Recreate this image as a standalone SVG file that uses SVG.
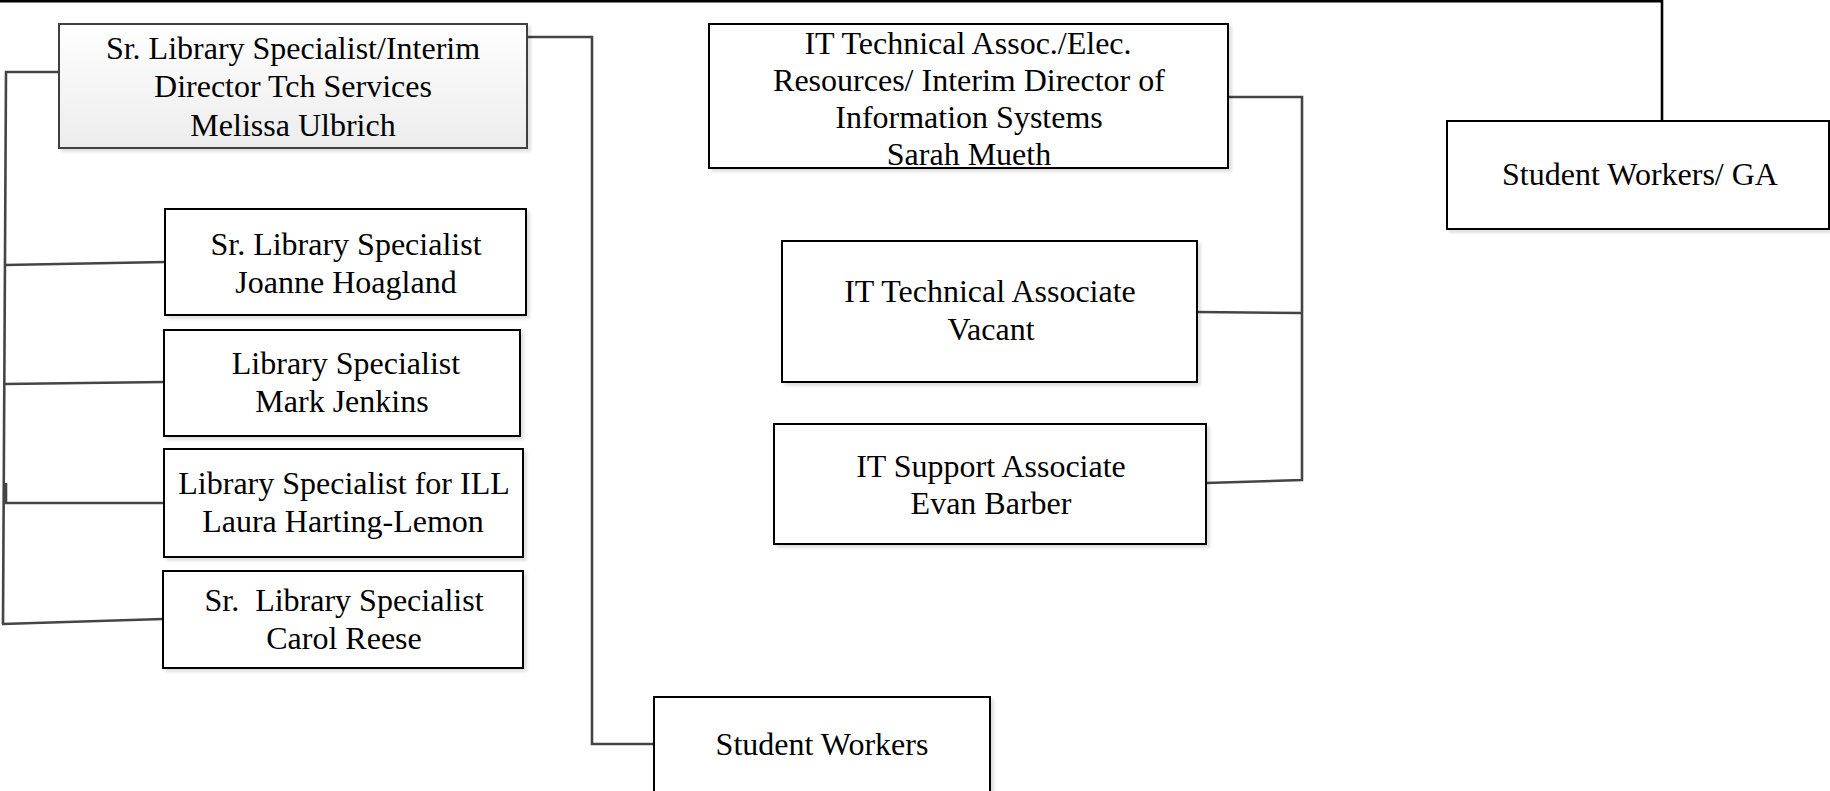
<svg xmlns="http://www.w3.org/2000/svg" width="1830" height="791" viewBox="0 0 1830 791">
<defs>
<linearGradient id="g1" x1="0" y1="0" x2="0" y2="1">
<stop offset="0" stop-color="#ffffff"/>
<stop offset="1" stop-color="#ececec"/>
</linearGradient>
<filter id="sh" x="-5%" y="-5%" width="115%" height="120%">
<feGaussianBlur in="SourceAlpha" stdDeviation="1.5"/>
<feOffset dx="3" dy="3" result="b"/>
<feComponentTransfer><feFuncA type="linear" slope="0.12"/></feComponentTransfer>
<feMerge><feMergeNode/><feMergeNode in="SourceGraphic"/></feMerge>
</filter>
</defs>
<style>
.box{fill:#fff;stroke:#000;stroke-width:2;filter:url(#sh)}
.box1{fill:url(#g1);stroke:#404040;stroke-width:2;filter:url(#sh)}
.t{font-family:"Liberation Serif","Times New Roman",serif;font-size:32px;fill:#000;text-anchor:middle}
.c{fill:none;stroke:#454545;stroke-width:2.6}
.top{fill:none;stroke:#000;stroke-width:2.6}
</style>
<g id="connectors">
<path class="top" d="M0,1.3 H1662 V121"/>
<path class="c" d="M59,72 H6 L3,624"/>
<path class="c" d="M5,265 L165,262"/>
<path class="c" d="M4,384 L164,382"/>
<path class="c" d="M6,483 V503 H164"/>
<path class="c" d="M2,624 L163,619"/>
<path class="c" d="M527,37 H592 V744 H654"/>
<path class="c" d="M1228,97 H1302 V480 L1206,483"/>
<path class="c" d="M1197,312 L1302,313"/>
</g>
<g id="n-melissa">
<rect class="box1" x="59" y="24" width="468" height="124"/>
<text class="t" x="293" y="59">Sr. Library Specialist/Interim</text>
<text class="t" x="293" y="97">Director Tch Services</text>
<text class="t" x="293" y="136">Melissa Ulbrich</text>
</g>
<g id="n-joanne">
<rect class="box" x="165" y="209" width="361" height="106"/>
<text class="t" x="346" y="255">Sr. Library Specialist</text>
<text class="t" x="346" y="293">Joanne Hoagland</text>
</g>
<g id="n-mark">
<rect class="box" x="164" y="330" width="356" height="106"/>
<text class="t" x="346" y="374">Library Specialist</text>
<text class="t" x="342" y="412">Mark Jenkins</text>
</g>
<g id="n-laura">
<rect class="box" x="164" y="449" width="359" height="108"/>
<text class="t" x="344" y="494">Library Specialist for ILL</text>
<text class="t" x="343" y="532">Laura Harting-Lemon</text>
</g>
<g id="n-carol">
<rect class="box" x="163" y="571" width="360" height="97"/>
<text class="t" x="344" y="611" xml:space="preserve">Sr.  Library Specialist</text>
<text class="t" x="344" y="649">Carol Reese</text>
</g>
<g id="n-student-workers">
<rect class="box" x="654" y="697" width="336" height="100"/>
<text class="t" x="822" y="755">Student Workers</text>
</g>
<g id="n-sarah">
<rect class="box" x="709" y="24" width="519" height="144"/>
<text class="t" x="968" y="54">IT Technical Assoc./Elec.</text>
<text class="t" x="969" y="91">Resources/ Interim Director of</text>
<text class="t" x="969" y="128">Information Systems</text>
<text class="t" x="969" y="165">Sarah Mueth</text>
</g>
<g id="n-vacant">
<rect class="box" x="782" y="241" width="415" height="141"/>
<text class="t" x="990" y="302">IT Technical Associate</text>
<text class="t" x="991" y="340">Vacant</text>
</g>
<g id="n-evan">
<rect class="box" x="774" y="424" width="432" height="120"/>
<text class="t" x="991" y="477">IT Support Associate</text>
<text class="t" x="991" y="514">Evan Barber</text>
</g>
<g id="n-ga">
<rect class="box" x="1447" y="121" width="382" height="108"/>
<text class="t" x="1640" y="185">Student Workers/ GA</text>
</g>
</svg>
